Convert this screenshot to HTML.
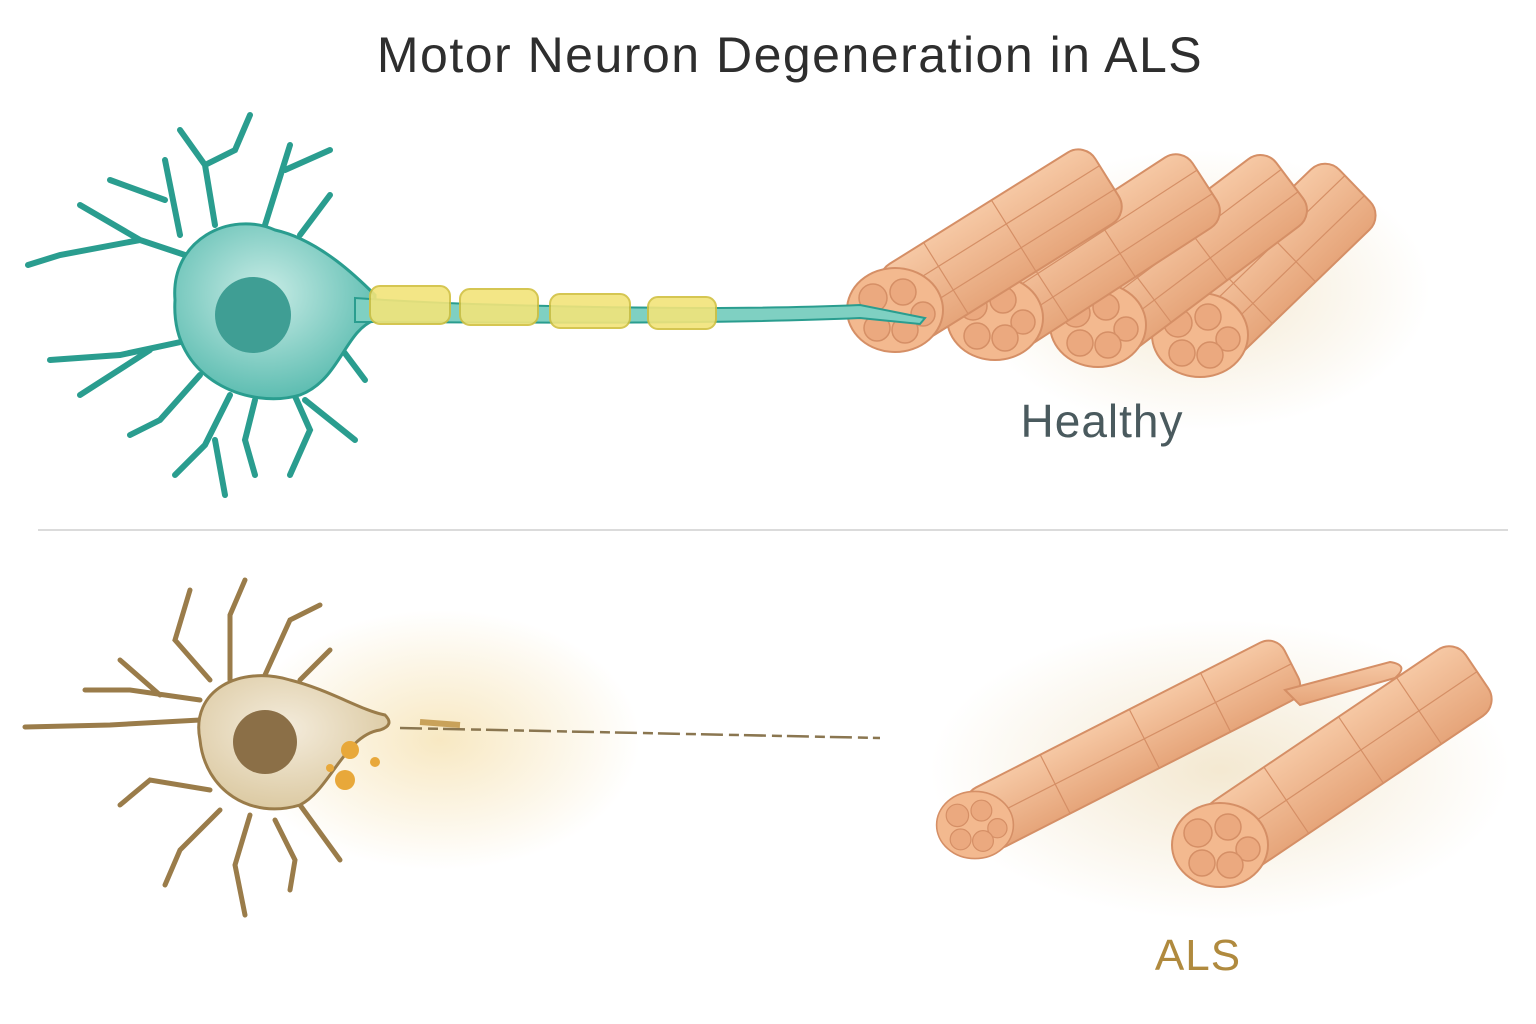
<!DOCTYPE html>
<html><head><meta charset="utf-8"><style>
html,body{margin:0;padding:0;background:#fff;}
svg{display:block}
text{font-family:"Liberation Sans",sans-serif}
</style></head><body>
<svg width="1536" height="1024" viewBox="0 0 1536 1024" xmlns="http://www.w3.org/2000/svg">
<defs>
<radialGradient id="soma" cx="0.45" cy="0.4" r="0.6"><stop offset="0" stop-color="#c9ece6"/><stop offset="1" stop-color="#5dbdb1"/></radialGradient>
<radialGradient id="soma2" cx="0.45" cy="0.4" r="0.6"><stop offset="0" stop-color="#f4ecdc"/><stop offset="1" stop-color="#dccaa3"/></radialGradient>
<radialGradient id="haze" cx="0.5" cy="0.5" r="0.5"><stop offset="0" stop-color="#f3d99a" stop-opacity="0.6"/><stop offset="1" stop-color="#f3d99a" stop-opacity="0"/></radialGradient>
<radialGradient id="sand" cx="0.5" cy="0.5" r="0.5"><stop offset="0" stop-color="#f1e3c6" stop-opacity="0.8"/><stop offset="1" stop-color="#f1e3c6" stop-opacity="0"/></radialGradient>
<linearGradient id="fib" x1="0" y1="0" x2="0" y2="1"><stop offset="0" stop-color="#f6c8a4"/><stop offset="1" stop-color="#e6a57a"/></linearGradient>
<g id="cap">
<ellipse cx="0" cy="0" rx="48" ry="42" fill="#f3b98f" stroke="#d58f66" stroke-width="2"/>
<g fill="#eba97f" stroke="#d58f66" stroke-width="1.5">
<circle cx="-22" cy="-12" r="14"/><circle cx="8" cy="-18" r="13"/><circle cx="28" cy="4" r="12"/><circle cx="-18" cy="18" r="13"/><circle cx="10" cy="20" r="13"/>
</g></g>
</defs>
<text x="790" y="72" font-size="50" fill="#2e2e2e" text-anchor="middle" letter-spacing="1.5">Motor Neuron Degeneration in ALS</text>

<g stroke="#2a9d8f" fill="none" stroke-linecap="round">
<path d="M200 260 L140 240 L80 205 M140 240 L60 255 L28 265 M180 235 L165 160 M165 200 L110 180 M215 225 L205 165 L180 130 M205 165 L235 150 L250 115 M265 225 L290 145 M285 170 L330 150 M300 235 L330 195 M190 340 L120 355 L50 360 M150 350 L80 395 M200 375 L160 420 L130 435 M230 395 L205 445 L175 475 M215 440 L225 495 M255 400 L245 440 L255 475 M290 385 L310 430 L290 475 M305 400 L355 440 M335 340 L365 380" stroke-width="6"/>
</g>
<path d="M175 300 C170 240 230 210 275 230 C320 240 360 280 375 295 L375 320 C345 330 340 380 300 395 C250 410 170 380 175 300 Z" fill="url(#soma)" stroke="#2a9d8f" stroke-width="3"/>
<circle cx="253" cy="315" r="38" fill="#3f9e94"/>
<ellipse cx="1200" cy="290" rx="230" ry="140" fill="url(#sand)"/>
<g stroke="#d58f66" stroke-width="2" fill="url(#fib)">
<g transform="translate(1200,335) rotate(-44)"><rect x="0" y="-42" width="215" height="84" rx="20"/><path d="M60 -42 V42 M120 -42 V42 M0 -14 H215 M0 14 H215" fill="none" stroke-width="1.2"/></g>
<use href="#cap" x="1200" y="335"/>
<g transform="translate(1098,325) rotate(-37)"><rect x="0" y="-42" width="240" height="84" rx="20"/><path d="M60 -42 V42 M130 -42 V42 M0 -14 H240 M0 14 H240" fill="none" stroke-width="1.2"/></g>
<use href="#cap" x="1098" y="325"/>
<g transform="translate(995,318) rotate(-33)"><rect x="0" y="-42" width="250" height="84" rx="20"/><path d="M60 -42 V42 M140 -42 V42 M0 -14 H250 M0 14 H250" fill="none" stroke-width="1.2"/></g>
<use href="#cap" x="995" y="318"/>
<g transform="translate(895,310) rotate(-32)"><rect x="0" y="-42" width="250" height="84" rx="20"/><path d="M60 -42 V42 M140 -42 V42 M0 -14 H250 M0 14 H250" fill="none" stroke-width="1.2"/></g>
<use href="#cap" x="895" y="310"/>
</g>
<path d="M355 298 C450 305 700 312 860 305 L925 318 L920 324 L860 318 C700 325 450 322 355 322 Z" fill="#7fd0c2" stroke="#2a9d8f" stroke-width="2"/>
<g fill="#f2e47a" stroke="#d1c040" stroke-width="2" opacity="0.9">
<rect x="370" y="286" width="80" height="38" rx="10"/>
<rect x="460" y="289" width="78" height="36" rx="10"/>
<rect x="550" y="294" width="80" height="34" rx="10"/>
<rect x="648" y="297" width="68" height="32" rx="10"/>
</g>
<text x="1102" y="437" font-size="46" fill="#4a5a5e" text-anchor="middle" letter-spacing="1">Healthy</text>

<line x1="38" y1="530" x2="1508" y2="530" stroke="#cfcfcf" stroke-width="1.5"/>

<ellipse cx="440" cy="740" rx="200" ry="130" fill="url(#haze)"/>
<g stroke="#9a7c4a" fill="none" stroke-linecap="round" stroke-width="5">
<path d="M200 700 L130 690 L85 690 M160 695 L120 660 M200 720 L110 725 L25 727 M210 680 L175 640 L190 590 M230 680 L230 615 L245 580 M265 675 L290 620 L320 605 M300 680 L330 650 M210 790 L150 780 L120 805 M220 810 L180 850 L165 885 M250 815 L235 865 L245 915 M275 820 L295 860 L290 890 M300 805 L340 860"/>
</g>
<path d="M200 740 C190 690 240 665 290 680 C330 690 360 710 385 715 Q395 725 380 730 C345 735 330 790 300 805 C250 820 205 790 200 740 Z" fill="url(#soma2)" stroke="#9a7c4a" stroke-width="3"/>
<circle cx="265" cy="742" r="32" fill="#8b6f47"/>
<g fill="#e8a83a"><circle cx="350" cy="750" r="9"/><circle cx="345" cy="780" r="10"/><circle cx="375" cy="762" r="5"/><circle cx="330" cy="768" r="4"/></g>
<path d="M400 728 L880 738" stroke="#8a7650" stroke-width="2.5" stroke-dasharray="22 6 10 5"/>
<path d="M420 722 L460 725" stroke="#c9a25a" stroke-width="6"/>
<ellipse cx="1220" cy="770" rx="290" ry="150" fill="url(#sand)"/>
<g stroke="#d58f66" stroke-width="2" fill="url(#fib)">
<g transform="translate(975,825) rotate(-27)"><rect x="0" y="-33" width="355" height="66" rx="18"/><path d="M90 -33 V33 M190 -33 V33 M270 -33 V33 M0 0 H355" fill="none" stroke-width="1.2"/></g>
<g transform="translate(975,825) scale(0.8)"><use href="#cap"/></g>
<path d="M1285 690 L1390 662 Q1410 665 1395 678 L1300 705 Z"/>
<g transform="translate(1220,845) rotate(-34)"><rect x="0" y="-40" width="310" height="80" rx="20"/><path d="M80 -40 V40 M170 -40 V40 M240 -40 V40 M0 0 H310" fill="none" stroke-width="1.2"/></g>
<use href="#cap" x="1220" y="845"/>
</g>
<text x="1198" y="970" font-size="44" fill="#b08a3e" text-anchor="middle" letter-spacing="1">ALS</text>
</svg>
</body></html>
